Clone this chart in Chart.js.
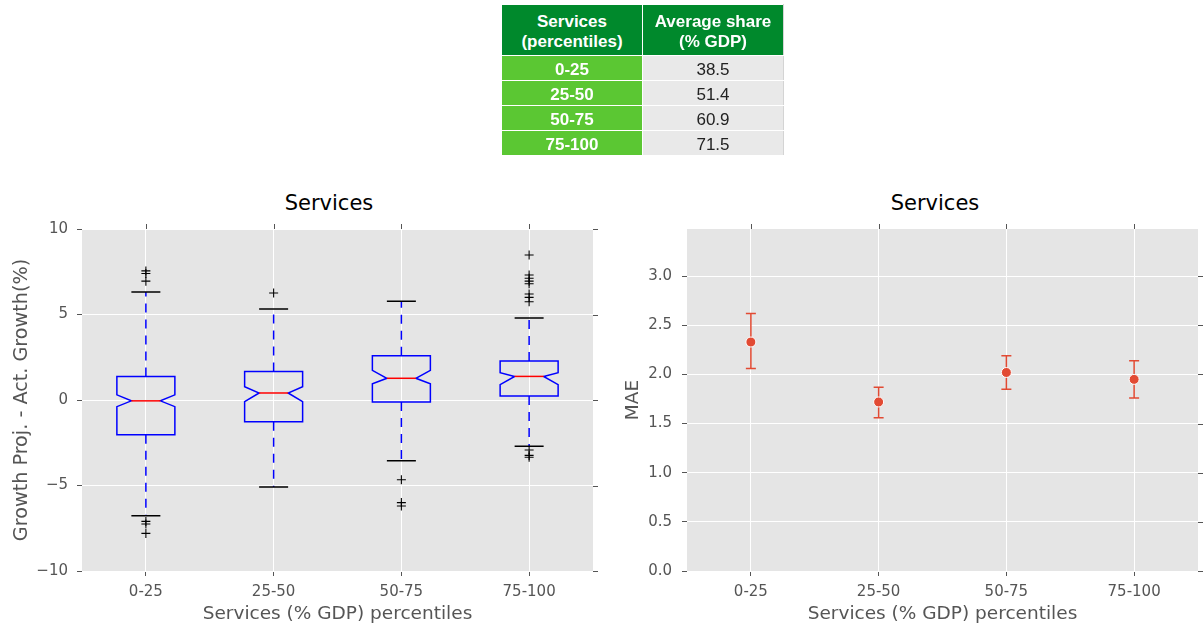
<!DOCTYPE html>
<html>
<head>
<meta charset="utf-8">
<script src="https://cdn.jsdelivr.net/npm/chart.js@4.4.1/dist/chart.umd.min.js"></script>
<style>
  html, body { margin: 0; padding: 0; background: #fff; }
  #page { position: relative; width: 1204px; height: 628px; overflow: hidden; font-family: "DejaVu Sans", sans-serif; }
  .panel { position: absolute; top: 0; width: 602px; height: 628px; }
  .panel canvas { display: block; }
  .title { position: absolute; top: 189px; width: 200px; margin-left: -100px; text-align: center;
           font-size: 21px; line-height: 28px; color: #000; }
  table.share { position: absolute; left: 501px; top: 4px; border-collapse: collapse; z-index: 2; table-layout: fixed;
                font-family: "Liberation Sans", Arial, sans-serif; font-size: 17px; }
  table.share th, table.share td { border: 1px solid #fff; padding: 0; text-align: center; box-sizing: border-box; overflow: hidden; }
  table.share th { background: #00892C; color: #fff; font-weight: bold; height: 51px; line-height: 20px; padding-top: 3px; }
  table.share td { height: 24px; line-height: 20px; padding-top: 4px; }
  table.share td.pct { background: #5BC733; color: #fff; font-weight: bold; width: 141px; }
  table.share td.val { background: #E9E9E9; color: #222; width: 141px; border-right: 1px solid #d4d4d4; }
  table.share th.pct { width: 141px; }
  table.share th.val { width: 141px; border-right: 1px solid #d4d4d4; }
</style>
</head>
<body>
<div id="page">
  <table class="share" id="shareTable">
    <thead>
      <tr><th class="pct">Services<br>(percentiles)</th><th class="val">Average share<br>(% GDP)</th></tr>
    </thead>
    <tbody></tbody>
  </table>

  <div class="title" style="left:329px">Services</div>
  <div class="title" style="left:935px">Services</div>

  <div class="panel" style="left:0"><canvas id="boxChart" width="602" height="628"></canvas></div>
  <div class="panel" style="left:602px"><canvas id="maeChart" width="602" height="628"></canvas></div>
</div>

<script>
// Percentile groups of the services share of GDP
const categories = ['0-25', '25-50', '50-75', '75-100'];
const averageShare = [38.5, 51.4, 60.9, 71.5];

// Forecast error distribution per group (growth projection minus actual growth, %)
const boxQ1        = [-2.03, -1.27, -0.12, 0.23];
const boxMedian    = [-0.05,  0.41,  1.27, 1.38];
const boxQ3        = [ 1.37,  1.66,  2.59, 2.28];
const notchLow     = [-0.39, -0.10,  0.95, 0.90];
const notchHigh    = [ 0.30,  0.78,  1.73, 1.60];
const whiskerLow   = [-6.77, -5.09, -3.55, -2.71];
const whiskerHigh  = [ 6.32,  5.32,  5.77, 4.80];
const fliers0to25   = [7.55, 7.40, 6.95, -7.10, -7.25, -7.80];
const fliers25to50  = [6.26];
const fliers50to75  = [-4.66, -6.00, -6.20];
const fliers75to100 = [8.48, 7.31, 7.12, 6.95, 6.80, 6.20, 6.00, 5.75, -2.92, -3.24, -3.35];
const growthTicks  = [-10, -5, 0, 5, 10];

// Mean absolute error per group with its interval
const mae     = [2.33, 1.72, 2.02, 1.95];
const maeLow  = [2.06, 1.56, 1.85, 1.76];
const maeHigh = [2.62, 1.87, 2.19, 2.14];
const maeTicks = [0, 0.5, 1.0, 1.5, 2.0, 2.5, 3.0];

// ---- summary table ----
const tbody = document.querySelector('#shareTable tbody');
categories.forEach((c, i) => {
  const tr = document.createElement('tr');
  tr.innerHTML = '<td class="pct">' + c + '</td><td class="val">' + averageShare[i].toFixed(1) + '</td>';
  tbody.appendChild(tr);
});

// ---- shared styling ----
Chart.defaults.font.family = '"DejaVu Sans", sans-serif';
Chart.defaults.color = '#555555';
Chart.defaults.animation = false;

const PANEL_BG = '#E5E5E5';
const TICK_COLOR = '#555555';

// grey panel behind the grid
const panelBackground = {
  id: 'panelBackground',
  beforeDraw(chart) {
    const { ctx, chartArea: a } = chart;
    ctx.save();
    ctx.fillStyle = PANEL_BG;
    ctx.fillRect(a.left, a.top, a.right - a.left, a.bottom - a.top);
    ctx.restore();
  }
};

// tick marks repeated on the top and right edges of the panel
const mirrorTicks = {
  id: 'mirrorTicks',
  afterDraw(chart) {
    const { ctx, chartArea: a, scales: { x, y } } = chart;
    ctx.save();
    ctx.strokeStyle = TICK_COLOR;
    ctx.lineWidth = 1;
    ctx.beginPath();
    y.ticks.forEach((t, i) => {
      const py = Math.round(y.getPixelForTick(i)) + 0.5;
      ctx.moveTo(a.right, py); ctx.lineTo(a.right + 5, py);
    });
    x.ticks.forEach((t, i) => {
      const px = Math.round(x.getPixelForTick(i)) + 0.5;
      ctx.moveTo(px, a.top - 5); ctx.lineTo(px, a.top);
    });
    ctx.stroke();
    ctx.restore();
  }
};

// notched box-and-whisker shapes
const notchedBoxes = {
  id: 'notchedBoxes',
  afterDatasetsDraw(chart) {
    const { ctx, scales: { x, y } } = chart;
    const step = Math.abs(x.getPixelForValue(1) - x.getPixelForValue(0));
    const half = step * 0.227;
    const inset = half / 2;
    const capHalf = half / 2;
    ctx.save();
    ctx.lineWidth = 1.5;
    categories.forEach((c, i) => {
      const cx = x.getPixelForValue(i);
      const l = cx - half, r = cx + half;
      const yQ1 = y.getPixelForValue(boxQ1[i]);
      const yQ3 = y.getPixelForValue(boxQ3[i]);
      const yMed = y.getPixelForValue(boxMedian[i]);
      const yNLo = y.getPixelForValue(notchLow[i]);
      const yNHi = y.getPixelForValue(notchHigh[i]);
      const yWLo = y.getPixelForValue(whiskerLow[i]);
      const yWHi = y.getPixelForValue(whiskerHigh[i]);

      // whiskers
      ctx.strokeStyle = '#0000FF';
      ctx.setLineDash([9, 7]);
      ctx.beginPath();
      ctx.moveTo(cx, yQ3); ctx.lineTo(cx, yWHi);
      ctx.moveTo(cx, yQ1); ctx.lineTo(cx, yWLo);
      ctx.stroke();
      ctx.setLineDash([]);

      // caps
      ctx.strokeStyle = '#000000';
      ctx.beginPath();
      ctx.moveTo(cx - capHalf, yWHi); ctx.lineTo(cx + capHalf, yWHi);
      ctx.moveTo(cx - capHalf, yWLo); ctx.lineTo(cx + capHalf, yWLo);
      ctx.stroke();

      // notched box outline
      ctx.strokeStyle = '#0000FF';
      ctx.lineJoin = 'miter';
      ctx.beginPath();
      ctx.moveTo(l, yQ1);
      ctx.lineTo(r, yQ1);
      ctx.lineTo(r, yNLo);
      ctx.lineTo(r - inset, yMed);
      ctx.lineTo(r, yNHi);
      ctx.lineTo(r, yQ3);
      ctx.lineTo(l, yQ3);
      ctx.lineTo(l, yNHi);
      ctx.lineTo(l + inset, yMed);
      ctx.lineTo(l, yNLo);
      ctx.closePath();
      ctx.stroke();

      // median
      ctx.strokeStyle = '#FF0000';
      ctx.beginPath();
      ctx.moveTo(l + inset, yMed); ctx.lineTo(r - inset, yMed);
      ctx.stroke();
    });
    ctx.restore();
  }
};

// vertical error bars with caps
const errorBars = {
  id: 'errorBars',
  beforeDatasetsDraw(chart) {
    const { ctx, scales: { x, y } } = chart;
    ctx.save();
    ctx.strokeStyle = '#E24A33';
    ctx.lineWidth = 1.5;
    ctx.beginPath();
    categories.forEach((c, i) => {
      const cx = x.getPixelForValue(i);
      const yl = y.getPixelForValue(maeLow[i]);
      const yh = y.getPixelForValue(maeHigh[i]);
      ctx.moveTo(cx, yl); ctx.lineTo(cx, yh);
      ctx.moveTo(cx - 5, yl); ctx.lineTo(cx + 5, yl);
      ctx.moveTo(cx - 5, yh); ctx.lineTo(cx + 5, yh);
    });
    ctx.stroke();
    ctx.restore();
  }
};

const minusSign = v => String(v).replace('-', '\u2212');

function categoryAxis(labelText) {
  return {
    type: 'category',
    labels: categories,
    offset: true,
    grid: { color: '#FFFFFF', lineWidth: 1, drawTicks: true, tickLength: 5, tickColor: TICK_COLOR, tickWidth: 1 },
    border: { display: false },
    ticks: { padding: 7, font: { size: 15 }, color: TICK_COLOR, maxRotation: 0 },
    title: { display: true, text: labelText, font: { size: 18.5 }, color: '#555555', padding: { top: 0, bottom: 3 } },
    afterFit(scale) { scale.height = 57; }
  };
}

const fliers = [
  ...fliers0to25.map(v => ({ x: categories[0], y: v })),
  ...fliers25to50.map(v => ({ x: categories[1], y: v })),
  ...fliers50to75.map(v => ({ x: categories[2], y: v })),
  ...fliers75to100.map(v => ({ x: categories[3], y: v }))
];

new Chart(document.getElementById('boxChart'), {
  type: 'scatter',
  data: {
    datasets: [{
      label: 'outliers',
      data: fliers,
      pointStyle: 'cross',
      pointRadius: 4.5,
      borderColor: '#000000',
      borderWidth: 1.1,
      backgroundColor: '#000000'
    }]
  },
  options: {
    responsive: false,
    layout: { padding: { top: 229, right: 9, bottom: 0, left: 0 } },
    plugins: { legend: { display: false }, tooltip: { enabled: false } },
    scales: {
      x: categoryAxis('Services (% GDP) percentiles'),
      y: {
        type: 'linear',
        min: -10, max: 10,
        afterBuildTicks(scale) { scale.ticks = growthTicks.map(v => ({ value: v })); },
        grid: { color: '#FFFFFF', lineWidth: 1, drawTicks: true, tickLength: 5, tickColor: TICK_COLOR },
        border: { display: false },
        ticks: { padding: 9, font: { size: 15 }, color: TICK_COLOR, callback: v => minusSign(v) },
        title: { display: true, text: 'Growth Proj. - Act. Growth(%)', font: { size: 19.2 }, color: '#555555', padding: { top: 10, bottom: 0 } },
        afterFit(scale) { scale.width = 82; }
      }
    }
  },
  plugins: [panelBackground, notchedBoxes, mirrorTicks]
});

new Chart(document.getElementById('maeChart'), {
  type: 'scatter',
  data: {
    datasets: [{
      label: 'MAE',
      data: categories.map((c, i) => ({ x: c, y: mae[i] })),
      pointStyle: 'circle',
      pointRadius: 5,
      backgroundColor: '#E24A33',
      borderColor: '#FFFFFF',
      borderWidth: 1
    }]
  },
  options: {
    responsive: false,
    layout: { padding: { top: 229, right: 5, bottom: 0, left: 0 } },
    plugins: { legend: { display: false }, tooltip: { enabled: false } },
    scales: {
      x: categoryAxis('Services (% GDP) percentiles'),
      y: {
        type: 'linear',
        min: 0, max: 3.48,
        afterBuildTicks(scale) { scale.ticks = maeTicks.map(v => ({ value: v })); },
        grid: { color: '#FFFFFF', lineWidth: 1, drawTicks: true, tickLength: 5, tickColor: TICK_COLOR },
        border: { display: false },
        ticks: { padding: 10, font: { size: 15 }, color: TICK_COLOR, callback: v => Number(v).toFixed(1) },
        title: { display: true, text: 'MAE', font: { size: 18.5 }, color: '#555555', padding: { top: 20, bottom: 0 } },
        afterFit(scale) { scale.width = 85; }
      }
    }
  },
  plugins: [panelBackground, errorBars, mirrorTicks]
});
</script>
</body>
</html>
